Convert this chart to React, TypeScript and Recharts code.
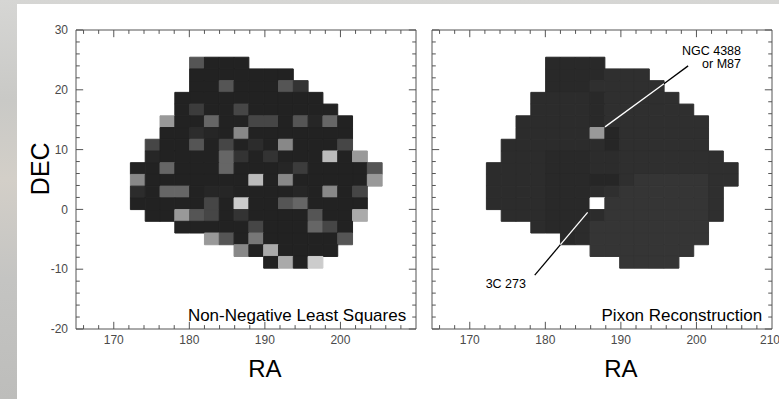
import React from 'react';
import {
  ScatterChart,
  Scatter,
  XAxis,
  YAxis,
  ReferenceArea,
  ReferenceLine,
  ReferenceDot,
} from 'recharts';

const FONT = '"Liberation Sans", Arial, Helvetica, sans-serif';
const AXIS = '#555';

// grey level for each map character ('.' = no pixel)
const grey: Record<string, string> = {
  '0': '#222222', '1': '#262626', '2': '#2c2c2c', '3': '#333333',
  '4': '#3c3c3c', '5': '#464646', '6': '#555555', '7': '#666666',
  '8': '#777777', '9': '#888888', a: '#999999', b: '#aaaaaa',
  c: '#bbbbbb', d: '#cccccc', w: '#ffffff',
  p: '#292929', q: '#2f2f2f', r: '#353535',
};

// pixels, rows from north to south, columns from low RA to high RA
const nnlsRows = [
  '....6000.........',
  '....0000000......',
  '....00600063.....',
  '...0000000000....',
  '...04005000000...',
  '..a007005506170..',
  '..0021090000000..',
  '.50060502090005..',
  '.100007303000c0a.',
  '00700070001400006',
  '90000000c0900000a',
  '2077011000010905.',
  '0000050d00670000.',
  '.00a65030000600b.',
  '...000005000750..',
  '.....a608000006..',
  '.......90b0000...',
  '.........0b0d....',
];

const pixonRows = [
  '....pppp.........',
  '....ppppqqq......',
  '....pppqqqqq.....',
  '...2222pqqqqq....',
  '...2222pqqqqqq...',
  '..22222pqqqqqqq..',
  '..22222a1qqqqqq..',
  '.22222221qqqqqq..',
  '.222ppp22qqqqqqq.',
  '2222ppp22qqqqqqqq',
  '2222ppp11qrrrrrqq',
  '2222ppp2qrrrrrrq.',
  '2222pppwrrrrrrrq.',
  '.222ppp2rrrrrrrq.',
  '...2pp2rrrrrrrr..',
  '.....p2rrrrrrrr..',
  '.......rrrrrrr...',
  '.........rrrr....',
];

const RA_DOMAIN: [number, number] = [165, 210];
const DEC_DOMAIN: [number, number] = [-20, 30];
const RA_START = 172.2;
const DEC_TOP = 25.45;
const CELL = 1.96;

const raTicksLeft = [170, 180, 190, 200];
const raTicksRight = [170, 180, 190, 200, 210];
const decTicks = [-20, -10, 0, 10, 20, 30];

// annotation segments in the Pixon panel [ra, dec]
const ngcBlack = [[198.9, 24.0], [195.7, 21.0]];
const ngcWhite = [[195.7, 21.0], [187.9, 13.8]];
const qsoBlack = [[178.6, -11.0], [182.0, -5.9]];
const qsoWhite = [[182.0, -5.9], [185.6, -0.5]];

function steps(from: number, to: number, step: number) {
  const out: number[] = [];
  for (let v = from; v <= to + 1e-9; v += step) out.push(v);
  return out;
}

const toCells = (rows: string[]) =>
  rows.flatMap((row, r) =>
    row.split('').flatMap((ch, c) =>
      ch === '.'
        ? []
        : [{ x: RA_START + c * CELL + CELL / 2, y: DEC_TOP - r * CELL - CELL / 2, color: grey[ch] }]
    )
  );

const SvgText = (props: any) => {
  const { viewBox, text, anchor = 'start', size = 12, rotate = 0, fill = '#000', baseline } = props;
  const x = viewBox?.x ?? 0;
  const y = viewBox?.y ?? 0;
  return (
    <text
      x={x}
      y={y}
      textAnchor={anchor}
      fontSize={size}
      fill={fill}
      fontFamily={FONT}
      dominantBaseline={baseline}
      transform={rotate ? `rotate(${rotate} ${x} ${y})` : undefined}
    >
      {text}
    </text>
  );
};

// IDL-style inward ticks on all four sides
const tickMarks = (prefix: string) => {
  const lines: React.ReactNode[] = [];
  steps(-20, 30, 2).forEach((v) => {
    const len = v % 10 === 0 ? 0.95 : 0.5;
    lines.push(
      <ReferenceLine key={`${prefix}-yl-${v}`} ifOverflow="visible" segment={[{ x: 165, y: v }, { x: 165 + len, y: v }]} stroke={AXIS} />,
      <ReferenceLine key={`${prefix}-yr-${v}`} ifOverflow="visible" segment={[{ x: 210 - len, y: v }, { x: 210, y: v }]} stroke={AXIS} />
    );
  });
  steps(166, 208, 2).forEach((v) => {
    const len = v % 10 === 0 ? 1.2 : 0.65;
    lines.push(
      <ReferenceLine key={`${prefix}-xb-${v}`} ifOverflow="visible" segment={[{ x: v, y: -20 }, { x: v, y: -20 + len }]} stroke={AXIS} />,
      <ReferenceLine key={`${prefix}-xt-${v}`} ifOverflow="visible" segment={[{ x: v, y: 30 - len }, { x: v, y: 30 }]} stroke={AXIS} />
    );
  });
  return lines;
};

const segment = (pts: number[][], color: string, key: string) => (
  <ReferenceLine
    key={key}
    ifOverflow="visible"
    segment={[{ x: pts[0][0], y: pts[0][1] }, { x: pts[1][0], y: pts[1][1] }]}
    stroke={color}
    strokeWidth={1.3}
  />
);

interface PanelProps {
  rows: string[];
  title: string;
  raTicks: number[];
  left: number;
  width: number;
  margin: { top: number; right: number; bottom: number; left: number };
  yWidth: number;
  showDec: boolean;
  extras?: React.ReactNode;
}

const Panel = ({ rows, title, raTicks, left, width, margin, yWidth, showDec, extras }: PanelProps) => {
  const cells = toCells(rows);
  return (
    <div style={{ position: 'absolute', left, top: 0 }}>
      <ScatterChart width={width} height={399} margin={margin}>
        <XAxis
          type="number"
          dataKey="x"
          domain={RA_DOMAIN}
          ticks={raTicks}
          allowDataOverflow
          axisLine={false}
          tickLine={false}
          tickMargin={0}
          height={30}
          tick={{ fill: '#4a4a4a', fontSize: 12, fontFamily: FONT }}
        />
        <YAxis
          type="number"
          dataKey="y"
          domain={DEC_DOMAIN}
          ticks={decTicks}
          allowDataOverflow
          axisLine={false}
          tickLine={false}
          width={yWidth}
          tick={showDec ? { fill: '#4a4a4a', fontSize: 12, fontFamily: FONT } : false}
        />
        {cells.map((c, i) => (
          <ReferenceArea
            key={`cell-${i}`}
            x1={c.x - CELL / 2}
            x2={c.x + CELL / 2}
            y1={c.y - CELL / 2}
            y2={c.y + CELL / 2}
            fill={c.color}
            fillOpacity={1}
            stroke={c.color}
            strokeWidth={1}
          />
        ))}
        <ReferenceArea x1={165} x2={210} y1={-20} y2={30} fill="none" fillOpacity={0} stroke={AXIS} strokeWidth={1} />
        {tickMarks(title)}
        {extras}
        <ReferenceDot
          x={208.7}
          y={-18.6}
          r={0}
          fill="none"
          stroke="none"
          label={<SvgText text={title} anchor="end" size={17} />}
        />
        <ReferenceDot
          x={190}
          y={-26.6}
          r={0}
          fill="none"
          stroke="none"
          ifOverflow="visible"
          label={<SvgText text="RA" anchor="middle" size={24} baseline="central" />}
        />
        {showDec && (
          <ReferenceDot
            x={160.3}
            y={6.8}
            r={0}
            fill="none"
            stroke="none"
            ifOverflow="visible"
            label={<SvgText text="DEC" anchor="middle" size={25} rotate={-90} baseline="central" />}
          />
        )}
        <Scatter data={cells} shape={() => <g />} isAnimationActive={false} legendType="none" />
      </ScatterChart>
    </div>
  );
};

const pixonExtras = [
  segment(ngcBlack, '#000', 'ngc-b'),
  segment(ngcWhite, '#fff', 'ngc-w'),
  segment(qsoBlack, '#000', 'qso-b'),
  segment(qsoWhite, '#fff', 'qso-w'),
  <ReferenceDot key="ngc1" x={205.9} y={25.8} r={0} fill="none" stroke="none" label={<SvgText text="NGC 4388" anchor="end" size={12.5} />} />,
  <ReferenceDot key="ngc2" x={205.9} y={23.6} r={0} fill="none" stroke="none" label={<SvgText text="or M87" anchor="end" size={12.5} />} />,
  <ReferenceDot key="qso" x={172.1} y={-13.1} r={0} fill="none" stroke="none" label={<SvgText text="3C 273" anchor="start" size={12.5} />} />,
];

export default function App() {
  return (
    <div
      style={{
        position: 'absolute',
        left: 0,
        top: 0,
        width: 779,
        height: 399,
        overflow: 'hidden',
        background: 'linear-gradient(180deg, #d6d6d4 0%, #c9c9c6 25%, #d3cfc8 45%, #c4c4c2 70%, #bdbdbb 100%)',
      }}
    >
      <div style={{ position: 'absolute', left: 17, top: 4, right: 0, bottom: 0, background: '#fff' }} />
      <Panel
        rows={nnlsRows}
        title="Non-Negative Least Squares"
        raTicks={raTicksLeft}
        left={0}
        width={430}
        margin={{ top: 30, right: 14, bottom: 40, left: 36 }}
        yWidth={40}
        showDec
      />
      <Panel
        rows={pixonRows}
        title="Pixon Reconstruction"
        raTicks={raTicksRight}
        left={400}
        width={379}
        margin={{ top: 30, right: 7, bottom: 40, left: 2 }}
        yWidth={30}
        showDec={false}
        extras={pixonExtras}
      />
    </div>
  );
}
